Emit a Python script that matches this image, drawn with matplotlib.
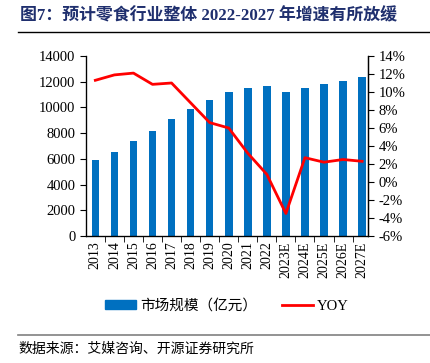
import matplotlib
matplotlib.use('Agg')
import matplotlib.pyplot as plt
from matplotlib.ticker import FixedLocator, FuncFormatter, MultipleLocator
from matplotlib.patches import Patch
from matplotlib.lines import Line2D

years = ['2013', '2014', '2015', '2016', '2017', '2018', '2019', '2020', '2021', '2022',
         '2023E', '2024E', '2025E', '2026E', '2027E']
market = [5890, 6560, 7390, 8190, 9070, 9880, 10550, 11170, 11540, 11640,
          11230, 11510, 11800, 12080, 12370]
yoy = [11.3, 11.9, 12.1, 10.85, 11.0, 8.8, 6.6, 6.0, 3.2, 0.85,
       -3.5, 2.7, 2.2, 2.5, 2.3]

serif = ['Liberation Serif', 'Noto Sans CJK SC']
plt.rcParams['font.family'] = serif

fig = plt.figure(figsize=(4.31, 3.63), dpi=100)
ax = fig.add_axes([86/431, 1-236/363, 282/431, 180/363])
x = list(range(len(years)))
ax.bar(x, market, width=0.4, color='#0070C0', zorder=2)
ax.set_ylim(0, 14000)
ax.set_xlim(-0.49, 14.31)
ax.yaxis.set_major_locator(MultipleLocator(2000))
ax.set_xticks(x)
ax.set_xticklabels(years, rotation=90, fontsize=10)
ax.tick_params(axis='x', which='major', length=0, pad=4)
ax.xaxis.set_minor_locator(FixedLocator([i + 0.5 for i in range(-1, 15)]))
ax.tick_params(axis='x', which='minor', length=4, direction='out')
ax.tick_params(axis='y', labelsize=10.5, length=4, direction='out')
ax.spines['top'].set_visible(False)
for s in ['left', 'bottom', 'right']:
    ax.spines[s].set_linewidth(0.9)

ax2 = ax.twinx()
ax2.plot(x, yoy, color='#FF0000', lw=2, zorder=3)
ax2.set_ylim(-6, 14)
ax2.yaxis.set_major_locator(MultipleLocator(2))
ax2.yaxis.set_major_formatter(FuncFormatter(lambda v, p: '%d%%' % round(v)))
ax2.tick_params(axis='y', labelsize=10.5, length=4, direction='out')
ax2.spines['top'].set_visible(False)
ax2.spines['right'].set_linewidth(0.9)

handles = [Patch(color='#0070C0'), Line2D([0], [0], color='#FF0000', lw=2)]
fig.legend(handles, ['市场规模（亿元）', 'YOY'], loc='center', bbox_to_anchor=(0.527, 1-306/363),
           ncol=2, frameon=False, fontsize=10.5, handlelength=2.1, handleheight=0.6,
           columnspacing=1.7, handletextpad=0.3)

fig.text(20/431, 1-16/363, '图7：预计零食行业整体 2022-2027 年增速有所放缓', fontsize=12.2,
         fontweight='bold', color='#1F2F6E', va='center', ha='left')
fig.add_artist(Line2D([18/431, 1.0], [1-32/363, 1-32/363], color='black', lw=1))
fig.add_artist(Line2D([18/431, 1.0], [1-335/363, 1-335/363], color='#808080', lw=1.2))
fig.text(18/431, 1-349/363, '数据来源：艾媒咨询、开源证券研究所', fontsize=10, va='center', ha='left')

fig.savefig('out.png', dpi=100)
